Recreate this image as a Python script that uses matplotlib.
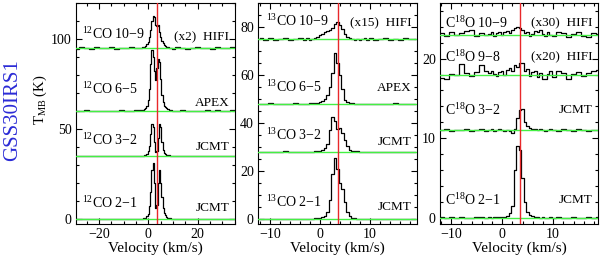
import matplotlib
matplotlib.use('Agg')
import matplotlib.pyplot as plt
from matplotlib.ticker import MultipleLocator

plt.rcParams['font.family'] = ['Liberation Serif', 'DejaVu Serif']
plt.rcParams['mathtext.fontset'] = 'custom'
plt.rcParams['mathtext.rm'] = 'Liberation Serif'
plt.rcParams['mathtext.it'] = 'Liberation Serif:italic'

# ---------------- data ----------------
vlsr = 3.5

# 12CO panel velocity channels (km/s)
vel1 = [-31, -29, -27, -25, -23, -21, -19, -17, -15, -13, -11, -9, -7, -5, -3,
        -2.5, -2, -1.5, -1, -0.5, 0, 0.5, 1, 1.5, 2, 2.5, 3, 3.5, 4, 4.5, 5, 5.5, 6, 6.5, 7, 7.5, 8, 8.5, 9, 9.5,
        10, 12, 14, 16, 18, 20, 22, 24, 26, 28, 30, 32, 34, 36]

co12_21 = [0.1, -0.2, 0.2, 0.0, -0.1, 0.2, -0.2, 0.1, 0.0, -0.1, 0.2, 0.1, -0.1, 0.0, 0.2,
           0.2, 0.3, 0.5, 0.8, 1.5, 3.0, 7.0, 15, 27, 31, 20, 6, 8, 20, 27, 20, 12, 6, 3.2, 2.0, 1.2, 0.8, 0.5, 0.3, 0.2,
           0.1, -0.1, 0.2, 0.0, -0.2, 0.1, 0.0, 0.1, -0.1, 0.2, 0.0, -0.1, 0.1, 0.0]
co12_32 = [0.0, 0.2, -0.1, 0.1, 0.0, -0.2, 0.1, 0.2, -0.1, 0.0, 0.1, -0.1, 0.2, 0.0, 0.1,
           0.1, 0.2, 0.3, 0.5, 1.0, 2.5, 5.5, 12, 18, 16, 8, 2, 2.5, 10, 18, 16, 8, 3.5, 1.8, 1.0, 0.6, 0.4, 0.3, 0.2, 0.1,
           0.0, 0.1, -0.1, 0.2, 0.0, 0.1, -0.2, 0.0, 0.1, -0.1, 0.2, 0.0, 0.1, -0.1]
co12_65 = [0.2, -0.1, 0.1, 0.3, 0.0, 0.2, -0.2, 0.1, 0.2, 0.0, 0.3, 0.1, 0.2, 0.3, 0.4,
           0.5, 0.8, 1.2, 1.8, 2.8, 6, 12, 26, 34, 30, 22, 17, 24, 29, 27, 18, 9, 5, 3, 2, 1.4, 1.0, 0.6, 0.4, 0.3,
           0.2, 0.1, 0.3, 0.0, 0.2, -0.1, 0.1, 0.3, 0.0, 0.5, 0.2, 0.1, 0.4, 0.2]
co12_109 = [0.2, -0.4, 0.3, 0.0, -0.3, 0.4, -0.2, 0.1, 0.3, -0.4, 0.2, 0.0, 0.3, -0.2, 0.1,
            0.3, 0.5, 0.8, 1.2, 2.0, 3.5, 6, 10, 15, 18, 17, 13, 12, 13, 9, 6, 4, 2.5, 1.5, 1.0, 0.6, 0.4, 0.2, 0.1, 0.0,
            -0.3, 0.3, 0.0, -0.4, 0.2, 0.4, -0.2, 0.1, -0.3, 0.3, 0.0, -0.2, 0.4, -0.1]

# 13CO and C18O panels velocity channels (km/s)
vel2 = [-12, -11, -10, -9, -8, -7, -6, -5, -4, -3,
        -2.5, -2, -1.5, -1, -0.5, 0, 0.5, 1, 1.5, 2, 2.5, 3, 3.5, 4, 4.5, 5, 5.5, 6, 6.5, 7, 7.5, 8, 8.5, 9, 9.5,
        10, 11, 12, 13, 14, 15, 16, 17, 18, 19]

co13_21 = [0.1, -0.1, 0.2, 0.0, 0.1, -0.1, 0.0, 0.2, 0.1, 0.0,
           0.1, 0.2, 0.2, 0.3, 0.4, 0.6, 0.9, 1.5, 3.0, 8.0, 19, 25.4, 21, 15, 12.5, 7, 3, 1.2, 0.5, 0.3, 0.2, 0.1, 0.1, 0.0, 0.1,
           0.0, 0.1, -0.1, 0.0, 0.2, 0.0, -0.1, 0.1, 0.0, 0.1]
co13_32 = [0.0, 0.1, -0.1, 0.1, 0.0, 0.2, -0.1, 0.0, 0.1, 0.0,
           0.0, 0.1, 0.1, 0.2, 0.3, 0.5, 0.8, 1.5, 3.5, 9, 14.5, 13, 9.5, 10, 8, 5, 2.5, 1.0, 0.5, 0.3, 0.2, 0.1, 0.0, 0.1, 0.0,
           0.1, -0.1, 0.0, 0.1, 0.0, -0.1, 0.1, 0.0, 0.1, 0.0]
co13_65 = [0.1, 0.0, 0.2, -0.1, 0.1, 0.0, 0.1, 0.2, 0.0, 0.1,
           0.1, 0.2, 0.2, 0.3, 0.5, 0.8, 1.2, 2.0, 3.5, 7, 13, 21, 17, 12, 6, 1.5, 0.6, 0.3, 0.2, 0.1, 0.0, 0.1, 0.0, 0.1, 0.0,
           0.1, 0.0, -0.1, 0.1, 0.0, 0.2, 0.0, 0.1, -0.1, 0.0]
co13_109 = [0.5, -0.2, 0.3, -0.5, 0.2, 0.6, -0.3, 0.0, 0.4, -0.2,
            0.3, -0.3, 0.2, 0.4, 0.8, 1.5, 2.2, 2.8, 3.3, 3.8, 4.8, 6.2, 7.2, 6.0, 4.0, 2.2, 1.0, 0.4, 0.0, -0.3, 0.2, -0.4, 0.1, 0.3, -0.2,
            0.4, -0.3, 0.2, 0.6, -0.2, 0.1, -0.5, 0.3, -0.1, 0.2]

c18o_21 = [0.05, -0.05, 0.1, 0.0, 0.05, -0.05, 0.0, 0.1, 0.05, 0.0,
           0.05, 0.0, 0.05, 0.1, 0.05, 0.1, 0.1, 0.15, 0.6, 1.5, 6.0, 9.0, 8.5, 5.0, 2.0, 0.7, 0.3, 0.2, 0.1, 0.05, 0.0, 0.05, 0.0, -0.05, 0.05,
           0.0, 0.05, -0.05, 0.0, 0.05, 0.0, -0.05, 0.05, 0.0, 0.05]
c18o_32 = [0.0, 0.1, -0.1, 0.05, 0.0, 0.1, -0.05, 0.0, 0.1, -0.1,
           0.0, 0.1, -0.1, 0.0, 0.1, 0.0, -0.1, 0.0, -0.1, -0.3, 0.1, 1.5, 2.6, 2.7, 1.0, 0.5, 0.3, 0.2, 0.1, 0.0, 0.1, 0.0, -0.1, 0.0, 0.1,
           0.0, -0.1, 0.1, 0.0, -0.05, 0.1, 0.0, -0.1, 0.05, 0.0]
c18o_98 = [-0.4, -0.5, 0.1, 0.0, 1.3, 0.2, -0.2, 0.3, 1.2, 0.4,
           0.2, 0.5, 0.1, -0.2, 0.3, 0.5, -0.1, 0.6, 0.8, 0.4, 1.2, 0.9, 1.5, 1.4, 0.4, 0.7, -0.2, 0.3, 0.5, -0.3, 0.2, -0.5, -0.6, 0.1, 0.4,
           -0.3, 0.5, 0.2, -0.6, 0.1, 0.3, -0.2, 0.2, 0.5, 0.6]
c18o_109 = [0.2, -0.1, 0.3, 0.0, 0.2, 0.5, 0.6, -0.1, 0.2, 0.0,
            0.1, 0.3, -0.1, 0.2, 0.4, 0.0, 0.3, 0.5, 0.2, 0.6, 0.8, 1.0, 0.9, 0.6, 0.2, 0.4, -0.1, 0.1, 0.5, 0.3, 0.6, 0.1, -0.2, 0.3, 0.0,
            -0.2, 0.4, 0.2, -0.3, 0.1, 0.3, -0.1, -0.3, 0.2, 0.1]

# baselines (vertical offsets, K)
off12 = [0, 35, 60, 95]
off13 = [0, 28, 48, 75]
off18 = [0, 11, 18, 23]

lab12 = [r'$^{12}$CO 2$-$1', r'$^{12}$CO 3$-$2', r'$^{12}$CO 6$-$5', r'$^{12}$CO 10$-$9']
lab13 = [r'$^{13}$CO 2$-$1', r'$^{13}$CO 3$-$2', r'$^{13}$CO 6$-$5', r'$^{13}$CO 10$-$9']
lab18 = [r'C$^{18}$O 2$-$1', r'C$^{18}$O 3$-$2', r'C$^{18}$O 9$-$8', r'C$^{18}$O 10$-$9']
tel12 = ['JCMT', 'JCMT', 'APEX', '(x2)  HIFI']
tel13 = ['JCMT', 'JCMT', 'APEX', '(x15)  HIFI']
tel18 = ['JCMT', 'JCMT', '(x20)  HIFI', '(x30)  HIFI']

# label heights (data units)
laby12 = [9, 44, 72, 103]
tely12 = [6, 40, 64.5, 101]
laby13 = [7, 35, 55, 82.5]
tely13 = [5, 32, 54.5, 81.5]
laby18 = [2.2, 13.5, 20.2, 24.5]
tely18 = [2.2, 13.5, 20.2, 24.5]

# ---------------- figure ----------------
fig = plt.figure(figsize=(6, 2.58), dpi=100)
H = 258.0
bottom = (H - 224) / H
height = (224 - 3) / H
ax1 = fig.add_axes([76 / 600, bottom, 159 / 600, height])
ax2 = fig.add_axes([258 / 600, bottom, 159 / 600, height])
ax3 = fig.add_axes([440 / 600, bottom, 158 / 600, height])

green = '#44f044'
red = '#e8282a'


def draw(ax, vel, specs, offs, labs, laby, tels, tely, labx):
    for s, o in zip(specs, offs):
        ax.plot(vel, [y + o for y in s], drawstyle='steps-mid', color='black', lw=0.9, zorder=2)
        ax.axhline(o, color=green, lw=1.0, zorder=3)
    ax.axvline(vlsr, color=red, lw=1.0, zorder=4)
    tr = ax.get_yaxis_transform()
    for l, y in zip(labs, laby):
        ax.text(labx, y, l, transform=tr, ha='left', va='center', fontsize=10)
    for t, y in zip(tels, tely):
        ax.text(0.965, y, t, transform=tr, ha='right', va='center', fontsize=9.5)
    ax.tick_params(which='both', direction='in', top=True, right=True, labelsize=10, width=0.8, pad=3)
    ax.tick_params(which='major', length=4)
    ax.tick_params(which='minor', length=2)
    for sp in ax.spines.values():
        sp.set_linewidth(0.8)
    ax.set_xlabel('Velocity (km/s)', fontsize=11, labelpad=0)


draw(ax1, vel1, [co12_21, co12_32, co12_65, co12_109], off12, lab12, laby12, tel12, tely12, 0.035)
ax1.set_xlim(-29.3, 35.1)
ax1.set_ylim(-2.8, 120)
ax1.xaxis.set_major_locator(MultipleLocator(20))
ax1.xaxis.set_minor_locator(MultipleLocator(5))
ax1.yaxis.set_major_locator(MultipleLocator(50))
ax1.yaxis.set_minor_locator(MultipleLocator(10))

draw(ax2, vel2, [co13_21, co13_32, co13_65, co13_109], off13, lab13, laby13, tel13, tely13, 0.05)
ax2.set_xlim(-12.4, 19.4)
ax2.set_ylim(-2, 90)
ax2.xaxis.set_major_locator(MultipleLocator(10))
ax2.xaxis.set_minor_locator(MultipleLocator(2))
ax2.yaxis.set_major_locator(MultipleLocator(20))
ax2.yaxis.set_minor_locator(MultipleLocator(5))

draw(ax3, vel2, [c18o_21, c18o_32, c18o_98, c18o_109], off18, lab18, laby18, tel18, tely18, 0.03)
ax3.set_xlim(-12.2, 18.8)
ax3.set_ylim(-0.8, 27)
ax3.xaxis.set_major_locator(MultipleLocator(10))
ax3.xaxis.set_minor_locator(MultipleLocator(2))
ax3.yaxis.set_major_locator(MultipleLocator(10))
ax3.yaxis.set_minor_locator(MultipleLocator(2))

fig.text(40 / 600, 1 - 100 / H, r'T$_{\rm MB}$ (K)', rotation=90, ha='center', va='center', fontsize=10.5)
fig.text(13 / 600, 1 - 110 / H, 'GSS30IRS1', rotation=90, ha='center', va='center', fontsize=15, color='#2b2bd6')

fig.savefig('out.png', dpi=100)
